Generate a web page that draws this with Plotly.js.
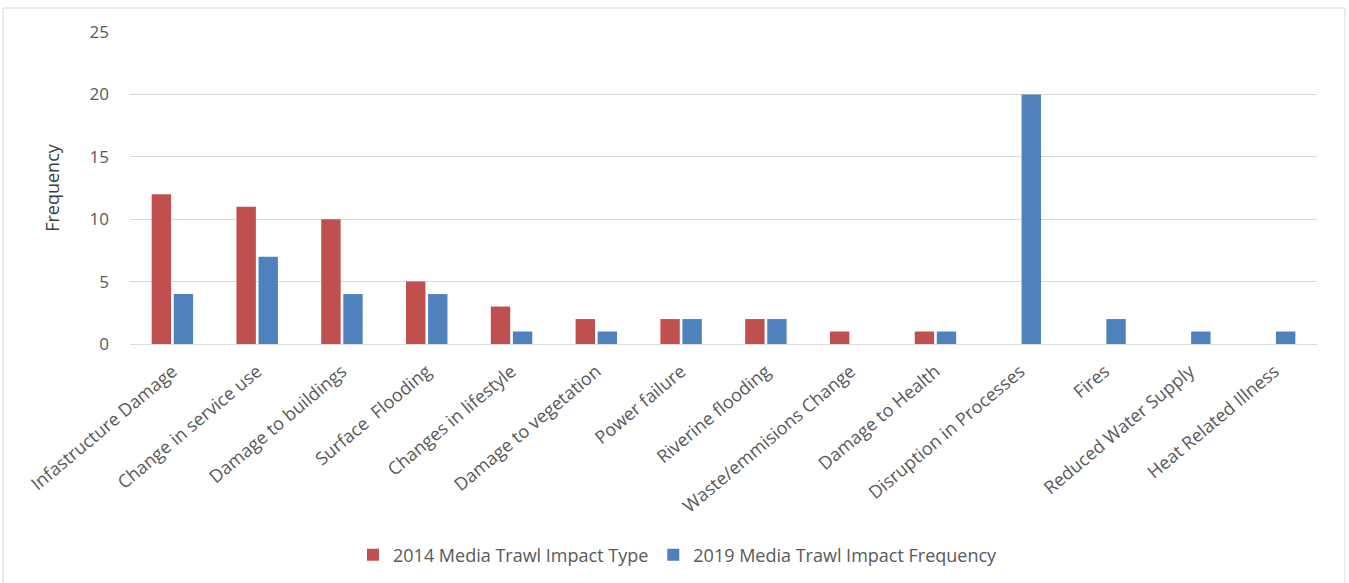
<!DOCTYPE html>
<html>
<head>
<meta charset="utf-8">
<script src="https://cdn.plot.ly/plotly-3.0.1.min.js"></script>
<style>
html,body{margin:0;padding:0;background:#fff;}
#chart{width:1349px;height:583px;}
</style>
</head>
<body>
<div id="chart"></div>
<script>
var categories = ["Infastructure Damage","Change in service use","Damage to buildings","Surface  Flooding","Changes in lifestyle","Damage to vegetation","Power failure","Riverine flooding","Waste/emmisions Change","Damage to Health","Disruption in Processes","Fires","Reduced Water Supply","Heat Related Illness"];
var series2014Name = "2014 Media Trawl Impact Type";
var series2019Name = "2019 Media Trawl Impact Frequency";
var values2014 = [12, 11, 10, 5, 3, 2, 2, 2, 1, 1, null, null, null, null];
var values2019 = [4, 7, 4, 4, 1, 1, 2, 2, null, 1, 20, 2, 1, 1];
var yTicks = [0, 5, 10, 15, 20, 25];

var fontFam = "Open Sans, Liberation Sans, sans-serif";
var textColor = "#595959";

var traces = [
  {type:"bar", name:series2014Name, x:categories, y:values2014, marker:{color:"#C0504D"}},
  {type:"bar", name:series2019Name, x:categories, y:values2019, marker:{color:"#4F81BD"}}
];

var layout = {
  width:1349, height:583,
  margin:{l:130, r:32, t:32, b:239},
  paper_bgcolor:"#ffffff", plot_bgcolor:"#ffffff",
  barmode:"group", bargap:0.48, bargroupgap:0.12,
  font:{family:fontFam, color:textColor, size:17},
  showlegend:true,
  legend:{orientation:"h", xref:"container", yref:"container", x:0.5026, xanchor:"center", y:0.048, yanchor:"middle",
          font:{size:18, color:textColor}, itemwidth:30, traceorder:"normal"},
  xaxis:{type:"category", tickangle:-40, showgrid:false, showline:true, linecolor:"#d9d9d9", linewidth:1,
         ticks:"", tickfont:{size:18, color:textColor}, ticklabelstandoff:9},
  yaxis:{range:[0,25], tickvals:yTicks, showgrid:true, gridcolor:"#d9d9d9", gridwidth:1,
         zeroline:false, showline:false, ticks:"", ticklen:0, tickfont:{size:17, color:textColor},
         ticklabelstandoff:20,
         title:{text:"Frequency", font:{size:18, color:"#404040"}, standoff:25}},
  shapes:[{type:"rect", xref:"paper", yref:"paper", x0:-0.107, x1:1.0236, y0:-1.0, y1:1.077,
           line:{color:"#d9d9d9", width:1}, fillcolor:"rgba(0,0,0,0)", layer:"below"}]
};

Plotly.newPlot("chart", traces, layout, {displayModeBar:false, staticPlot:true});
</script>
</body>
</html>
